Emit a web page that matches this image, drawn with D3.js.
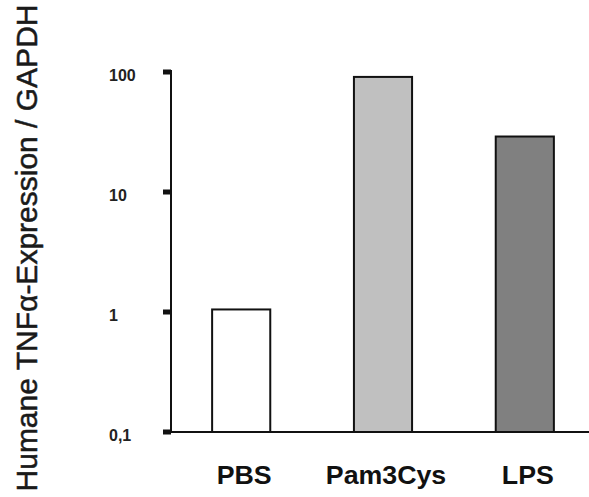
<!DOCTYPE html>
<html>
<head>
<meta charset="utf-8">
<script src="https://cdn.jsdelivr.net/npm/d3@7"></script>
<style>
  body { margin: 0; background: #fff; }
  svg { display: block; }
</style>
</head>
<body>
<div class="canvas"></div>
<script>
// data
const categories = ['PBS', 'Pam3Cys', 'LPS'];
const values = [1.05, 91, 29];
const fills = ['#ffffff', '#c0c0c0', '#808080'];
const tickValues = [0.1, 1, 10, 100];
const tickLabels = ['0,1', '1', '10', '100'];

const dims = { width: 589, height: 497 };
const axisX = 171;

const svg = d3.select('.canvas')
  .append('svg')
  .attr('width', dims.width)
  .attr('height', dims.height);

const y = d3.scaleLog()
  .domain([0.1, 100])
  .range([432, 72]);

const x = d3.scaleBand()
  .domain(categories)
  .range([axisX, 595])
  .paddingInner(0.59)
  .paddingOuter(0.29);

// bars
svg.append('g')
  .selectAll('rect')
  .data(categories)
  .enter()
  .append('rect')
    .attr('x', d => x(d))
    .attr('width', x.bandwidth())
    .attr('y', (d, i) => y(values[i]))
    .attr('height', (d, i) => y(0.1) - y(values[i]))
    .attr('fill', (d, i) => fills[i])
    .attr('stroke', '#111')
    .attr('stroke-width', 2);

// y axis line
svg.append('line')
  .attr('x1', axisX).attr('x2', axisX)
  .attr('y1', y(100) - 2).attr('y2', y(0.1))
  .attr('stroke', '#111')
  .attr('stroke-width', 2);

// x axis (baseline)
svg.append('line')
  .attr('x1', axisX - 1).attr('x2', dims.width)
  .attr('y1', y(0.1)).attr('y2', y(0.1))
  .attr('stroke', '#111')
  .attr('stroke-width', 2);

// tick marks, little squares left of the axis
svg.append('g')
  .selectAll('rect')
  .data(tickValues)
  .enter()
  .append('rect')
    .attr('x', axisX - 8)
    .attr('y', d => y(d) - 2.5)
    .attr('width', 8)
    .attr('height', 5)
    .attr('fill', '#111');

// tick labels
svg.append('g')
  .selectAll('text')
  .data(tickValues)
  .enter()
  .append('text')
    .attr('x', 109)
    .attr('y', d => y(d) + 9)
    .attr('font-family', 'Liberation Sans, Arial, sans-serif')
    .attr('font-weight', 'bold')
    .attr('font-size', 16)
    .attr('fill', '#222')
    .text((d, i) => tickLabels[i]);

// category labels
svg.append('g')
  .selectAll('text')
  .data(categories)
  .enter()
  .append('text')
    .attr('transform', d => `translate(${x(d) + x.bandwidth() / 2 + 3}, 484) scale(1.07,1)`)
    .attr('text-anchor', 'middle')
    .attr('font-family', 'Liberation Sans, Arial, sans-serif')
    .attr('font-weight', 'bold')
    .attr('font-size', 25)
    .attr('fill', '#111')
    .text(d => d);

// y title (regular weight, a hair of stroke for the blurry scan look)
svg.append('text')
  .attr('transform', 'translate(37, 248) rotate(-90)')
  .attr('text-anchor', 'middle')
  .attr('font-family', 'Liberation Sans, Arial, sans-serif')
  .attr('font-size', 30)
  .attr('fill', '#1a1a1a')
  .attr('stroke', '#1a1a1a')
  .attr('stroke-width', 0.5)
  .text('Humane TNFα-Expression / GAPDH');
</script>
</body>
</html>
